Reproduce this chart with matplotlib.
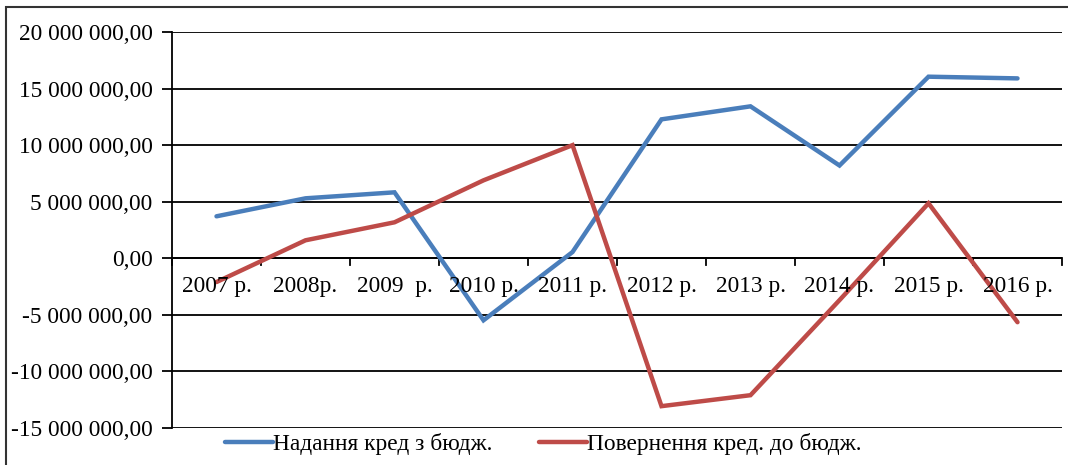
import matplotlib
matplotlib.use("Agg")
import matplotlib.pyplot as plt
from matplotlib.patches import Rectangle
from matplotlib.ticker import FuncFormatter
import numpy as np

years = ["2007 р.", "2008р.", "2009  р.", "2010 р.", "2011 р.", "2012 р.",
         "2013 р.", "2014 р.", "2015 р.", "2016 р."]
nadannya = [3.71e6, 5.30e6, 5.83e6, -5.48e6, 0.55e6, 12.28e6, 13.43e6, 8.20e6, 16.05e6, 15.90e6]
povernennya = [-2.10e6, 1.59e6, 3.18e6, 6.89e6, 10.0e6, -13.07e6, -12.10e6, -3.70e6, 4.86e6, -5.65e6]
series_names = ["Надання кред з бюдж.", "Повернення кред. до бюдж."]
yticks = [-15e6, -10e6, -5e6, 0, 5e6, 10e6, 15e6, 20e6]

plt.rcParams['font.family'] = ['Liberation Serif', 'DejaVu Serif']
FS = 16.8

W, H = 1068, 465
fig = plt.figure(figsize=(W / 100, H / 100), dpi=100)
ax = fig.add_axes([172 / W, 1 - 428 / H, (1062 - 172) / W, (428 - 32) / H])

x = np.arange(len(years))
blue = "#4A7EBB"
red = "#BE4B48"
ax.plot(x, nadannya, color=blue, lw=3.2, solid_capstyle='round', solid_joinstyle='miter', label=series_names[0], zorder=3)
ax.plot(x, povernennya, color=red, lw=3.2, solid_capstyle='round', solid_joinstyle='miter', label=series_names[1], zorder=3)

ax.set_xlim(-0.5, len(years) - 0.5)
ax.set_ylim(-15e6, 20e6)
ax.set_yticks(yticks)

def fmt(v, pos):
    s = f"{abs(v):,.2f}".replace(",", " ").replace(".", ",")
    return ("-" if v < 0 else "") + s
ax.yaxis.set_major_formatter(FuncFormatter(fmt))
ax.grid(axis='y', color='black', lw=1.3, zorder=1)
ax.tick_params(axis='y', length=7, width=1.3, labelsize=FS, pad=7, color='black')

for s in ['top', 'right', 'bottom']:
    ax.spines[s].set_visible(False)
ax.spines['left'].set_linewidth(1.3)

# category axis at zero
ax.axhline(0, color='black', lw=1.3, zorder=2)
ax.set_xticks([])
for b in np.arange(-0.5, len(years), 1.0):
    ax.plot([b, b], [0, -0.55e6], color='black', lw=1.3, zorder=2, clip_on=False)
for i, lab in enumerate(years):
    ax.text(i, -1.6e6, lab, ha='center', va='top', fontsize=FS, zorder=4)

leg = fig.legend(loc='center', bbox_to_anchor=(0.5 + 9 / W, 1 - 444 / H), ncol=2, frameon=False,
                 fontsize=FS, handlelength=2.06, handletextpad=0.0, columnspacing=2.0)

fig.patches.append(Rectangle((6 / W, -0.1), 1.2, 1 + 0.1 - 7 / H, transform=fig.transFigure,
                             fill=False, edgecolor='#333333', lw=1.5))

fig.savefig("out.png", dpi=100)
